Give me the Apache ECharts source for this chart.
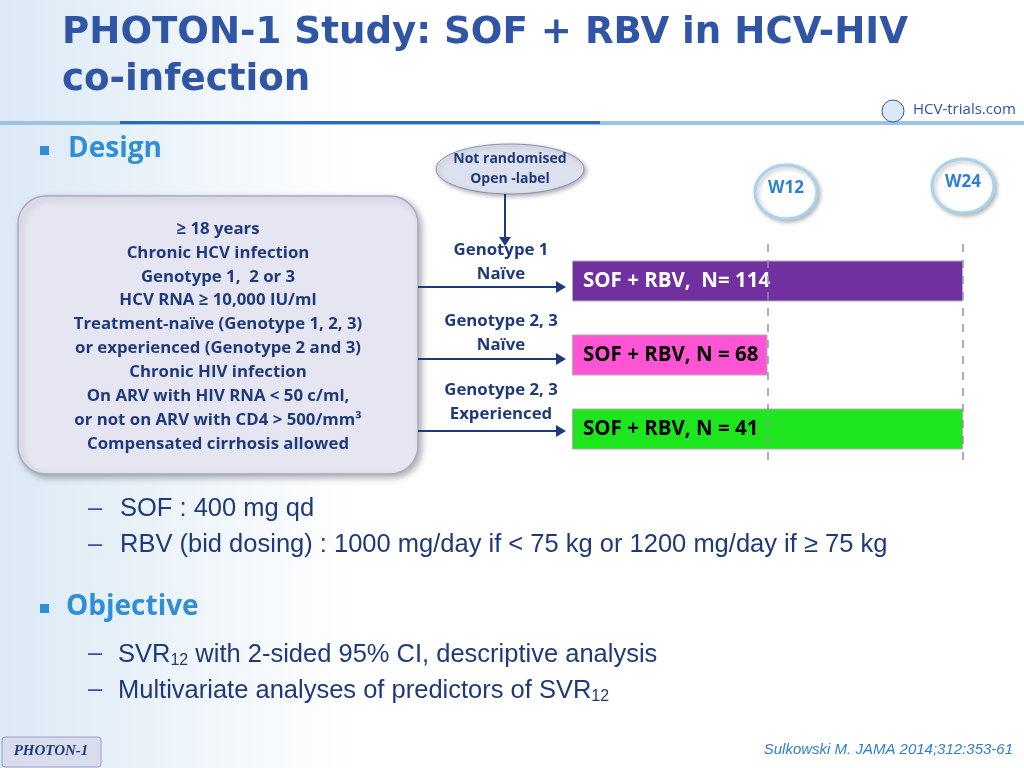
<!DOCTYPE html>
<html><head><meta charset="utf-8">
<script src="https://cdn.jsdelivr.net/npm/echarts@6/dist/echarts.min.js"></script>
<style>html,body{margin:0;padding:0;background:#fff}#c{width:1024px;height:768px}</style>
</head><body><div id="c"></div>
<script>
const arms = ['Genotype 1 Naïve', 'Genotype 2, 3 Naïve', 'Genotype 2, 3 Experienced'];
const durationWeeks = [24, 12, 24];
const armLabels = ['SOF + RBV,  N= 114', 'SOF + RBV, N = 68', 'SOF + RBV, N = 41'];
const armColors = ['#7030a0', '#ff55d4', '#1ee61e'];
const labelColors = ['#ffffff', '#000000', '#000000'];
const timepoints = [12, 24];

const chart = echarts.init(document.getElementById('c'));
const F = 'Open Sans';
const TX = (x, y, text, o) => ({type:'text', style:Object.assign({x, y, text, fontFamily:F, fontSize:16, fill:'#1f3a7a', fontWeight:'bold', verticalAlign:'top'}, o||{})});
const elements = [
  {type:'rect', shape:{x:0,y:0,width:1024,height:768}, style:{fill:new echarts.graphic.LinearGradient(0,0,1,0,[{offset:0,color:'#dbe9f5'},{offset:0.35,color:'#ffffff'},{offset:1,color:'#ffffff'}])}, z:-10},
  TX(62, 15, 'PHOTON-1 Study: SOF + RBV in HCV-HIV', {fontSize:37.2, fill:'#2f55a4', fontFamily:'DejaVu Sans'}),
  TX(62, 62, 'co-infection', {fontSize:37.2, fill:'#2f55a4', fontFamily:'DejaVu Sans'}),
  {type:'rect', shape:{x:0,y:121,width:1024,height:4}, style:{fill:'#9cc3e4'}},
  {type:'rect', shape:{x:120,y:121,width:480,height:3}, style:{fill:'#2a6cb3'}},
  TX(913, 102, 'HCV-trials.com', {fontSize:15, fill:'#2f55a4', fontWeight:'normal'}),
  {type:'circle', shape:{cx:893,cy:111,r:11}, style:{fill:'#dbe9f5', stroke:'#2f55a4'}},
  {type:'rect', shape:{x:40,y:146,width:9,height:9}, style:{fill:'#2f8fd6'}},
  TX(68, 135, 'Design', {fontSize:28, fill:'#2f8fd6'}),
  {type:'rect', shape:{x:18,y:196,width:400,height:278,r:28}, style:{fill:'#e6e6f2', stroke:'#a8a8c8', lineWidth:1.5, shadowBlur:6, shadowColor:'rgba(0,0,0,0.3)', shadowOffsetX:3, shadowOffsetY:3}},
  TX(218, 217, '≥ 18 years\nChronic HCV infection\nGenotype 1,  2 or 3\nHCV RNA ≥ 10,000 IU/ml\nTreatment-naïve (Genotype 1, 2, 3)\nor experienced (Genotype 2 and 3)\nChronic HIV infection\nOn ARV with HIV RNA < 50 c/ml,\nor not on ARV with CD4 > 500/mm³\nCompensated cirrhosis allowed', {fontSize:16.8, align:'center', lineHeight:23.9}),
  {type:'ellipse', shape:{cx:510,cy:169,rx:74,ry:25}, style:{fill:'#dde0ee', stroke:'#8890b0', shadowBlur:4, shadowColor:'rgba(0,0,0,0.3)', shadowOffsetX:2, shadowOffsetY:2}},
  TX(510, 149, 'Not randomised\nOpen -label', {fontSize:14, align:'center', lineHeight:20}),
  {type:'line', shape:{x1:505,y1:194,x2:505,y2:240}, style:{stroke:'#1f3a7a', lineWidth:2}},
  {type:'polygon', shape:{points:[[499,237],[511,237],[505,246]]}, style:{fill:'#1f3a7a'}},
  TX(501, 238, 'Genotype 1\nNaïve', {fontSize:16.8, align:'center', lineHeight:24}),
  TX(501, 309, 'Genotype 2, 3\nNaïve', {fontSize:16.8, align:'center', lineHeight:24}),
  TX(501, 378, 'Genotype 2, 3\nExperienced', {fontSize:16.8, align:'center', lineHeight:24}),
];
[287, 359, 431].forEach(y => {
  elements.push({type:'line', shape:{x1:418,y1:y,x2:560,y2:y}, style:{stroke:'#1f3a7a', lineWidth:2}});
  elements.push({type:'polygon', shape:{points:[[556,y-6],[556,y+6],[566,y]]}, style:{fill:'#1f3a7a'}});
});
[[786,192,'W12'],[963,186,'W24']].forEach(([x,y,t]) => {
  elements.push({type:'ellipse', shape:{cx:x,cy:y,rx:31,ry:27}, style:{fill:'#ffffff', stroke:'#a7d3ec', lineWidth:3, shadowBlur:4, shadowColor:'rgba(0,0,0,0.25)', shadowOffsetX:2, shadowOffsetY:2}});
  elements.push(TX(x, y-12, t, {fontSize:17, fill:'#2f7fd0', align:'center'}));
});
const L = {fontFamily:'Liberation Sans', fontSize:25.5, fill:'#1f3a7a', fontWeight:'normal'};
const dash = y => TX(88, y, '–', Object.assign({}, L, {fill:'#2f55a4'}));
elements.push(dash(496), TX(120, 496, 'SOF : 400 mg qd', L), dash(532), TX(120, 532, 'RBV (bid dosing) : 1000 mg/day if < 75 kg or 1200 mg/day if ≥ 75 kg', L));
elements.push({type:'rect', shape:{x:40,y:604,width:9,height:9}, style:{fill:'#2f8fd6'}});
elements.push(TX(66, 593, 'Objective', {fontSize:28, fill:'#2f8fd6'}));
const rich = {a:{fontFamily:'Liberation Sans', fontSize:25.5, fill:'#1f3a7a'}, s:{fontFamily:'Liberation Sans', fontSize:16, fill:'#1f3a7a', padding:[12,0,0,0]}};
elements.push(dash(641), TX(118, 641, '{a|SVR}{s|12}{a| with 2-sided 95% CI, descriptive analysis}', {rich, fontWeight:'normal'}));
elements.push(dash(677), TX(118, 677, '{a|Multivariate analyses of predictors of SVR}{s|12}', {rich, fontWeight:'normal'}));
elements.push({type:'rect', shape:{x:2,y:737,width:99,height:30,r:3}, style:{fill:'#d9dcec', stroke:'#9aa0c0'}});
elements.push(TX(51, 744, 'PHOTON-1', {fontFamily:'Liberation Serif', fontSize:15, fontStyle:'italic', align:'center'}));
elements.push(TX(1013, 742, 'Sulkowski M. JAMA 2014;312:353-61', {fontFamily:'Liberation Sans', fontSize:15, fontStyle:'italic', fontWeight:'normal', fill:'#2f7fd0', align:'right'}));

chart.setOption({
  animation:false,
  graphic:{elements},
  grid:{left:572, right:61, top:244, bottom:302},
  xAxis:{type:'value', min:0, max:24, show:false},
  yAxis:{type:'category', data:arms, inverse:true, show:false},
  series:[{
    type:'bar', barWidth:41,
    data: durationWeeks.map((v,i)=>({value:v, itemStyle:{color:armColors[i], borderColor:'#b0b0b0', borderWidth:1}, label:{color:labelColors[i]}})),
    label:{show:true, position:'insideLeft', offset:[6,0], fontFamily:F, fontSize:20.5, fontWeight:'bold', formatter:p=>armLabels[p.dataIndex]},
    markLine:{symbol:'none', silent:true, label:{show:false}, lineStyle:{color:'#9090a8', type:[8,8], width:1.5}, data:timepoints.map(t=>({xAxis:t}))},
    z:3
  }]
});
</script></body></html>
